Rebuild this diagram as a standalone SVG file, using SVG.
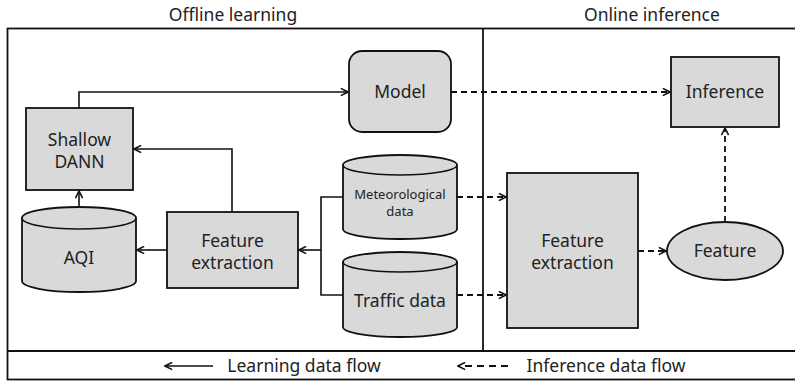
<svg xmlns="http://www.w3.org/2000/svg" width="795" height="381" viewBox="0 0 795 381">
<defs>
<style>
text{font-family:"Noto Sans","Open Sans","DejaVu Sans",sans-serif;fill:#222;text-anchor:middle}
.t16{font-size:17.5px}
.t13{font-size:13px}
.node{fill:#d9d9d9;stroke:#111;stroke-width:1.8}
.frame{fill:none;stroke:#111;stroke-width:1.8}
.solid{fill:none;stroke:#111;stroke-width:1.6}
.dash{fill:none;stroke:#111;stroke-width:1.8;stroke-dasharray:6 4}
</style>
<marker id="arr" viewBox="0 0 10 10" refX="9" refY="5" markerWidth="9" markerHeight="9" markerUnits="userSpaceOnUse" orient="auto">
<path d="M1,1 L9,5 L1,9" fill="none" stroke="#111" stroke-width="1.8"/>
</marker>
</defs>
<rect width="795" height="381" fill="#fff"/>
<g id="frame">
<rect class="frame" x="7.5" y="28.5" width="795" height="351"/>
<line class="frame" x1="483" y1="28" x2="483" y2="351"/>
<line class="frame" x1="7" y1="351" x2="795" y2="351"/>
<text class="t16" x="233" y="21">Offline learning</text>
<text class="t16" x="652" y="21">Online inference</text>
</g>
<g id="shallow-dann">
<rect class="node" x="26" y="108" width="107" height="82"/>
<text class="t16" x="79.5" y="146">Shallow</text>
<text class="t16" x="79.5" y="168">DANN</text>
</g>
<g id="model">
<rect class="node" x="349" y="51" width="102" height="81" rx="13"/>
<text class="t16" x="400" y="98">Model</text>
</g>
<g id="inference">
<rect class="node" x="671" y="57" width="108" height="70"/>
<text class="t16" x="725" y="98">Inference</text>
</g>
<g id="aqi">
<path class="node" d="M22,218 A57,11 0 0 1 136,218 L136,281 A57,11 0 0 1 22,281 Z"/>
<path class="solid" d="M22,218 A57,11 0 0 0 136,218"/>
<text class="t16" x="79" y="264">AQI</text>
</g>
<g id="feature-extraction-offline">
<rect class="node" x="167" y="212" width="131" height="76"/>
<text class="t16" x="232.5" y="247">Feature</text>
<text class="t16" x="232.5" y="269">extraction</text>
</g>
<g id="meteorological-data">
<path class="node" d="M343,165 A57,10 0 0 1 457,165 L457,229 A57,10 0 0 1 343,229 Z"/>
<path class="solid" d="M343,165 A57,10 0 0 0 457,165"/>
<text class="t13" x="400" y="199">Meteorological</text>
<text class="t13" x="400" y="216">data</text>
</g>
<g id="traffic-data">
<path class="node" d="M343,262 A57,10 0 0 1 457,262 L457,327 A57,10 0 0 1 343,327 Z"/>
<path class="solid" d="M343,262 A57,10 0 0 0 457,262"/>
<text class="t16" x="400" y="307">Traffic data</text>
</g>
<g id="feature-extraction-online">
<rect class="node" x="507" y="173" width="131" height="155"/>
<text class="t16" x="572.5" y="247">Feature</text>
<text class="t16" x="572.5" y="269">extraction</text>
</g>
<g id="feature">
<ellipse class="node" cx="725" cy="251" rx="58" ry="29"/>
<text class="t16" x="725" y="257">Feature</text>
</g>
<g id="connectors">
<path class="solid" d="M79,108 V92 H348" marker-end="url(#arr)"/>
<path class="solid" d="M232,212 V149 H134" marker-end="url(#arr)"/>
<path class="solid" d="M79,207 V191" marker-end="url(#arr)"/>
<path class="solid" d="M167,250 H137" marker-end="url(#arr)"/>
<path class="solid" d="M343,197 H321 V295 H343"/>
<path class="solid" d="M321,250 H299" marker-end="url(#arr)"/>
<path class="dash" d="M451,92 H670" marker-end="url(#arr)"/>
<path class="dash" d="M457,197 H506" marker-end="url(#arr)"/>
<path class="dash" d="M457,295 H506" marker-end="url(#arr)"/>
<path class="dash" d="M638,251 H666" marker-end="url(#arr)"/>
<path class="dash" d="M725,222 V128" marker-end="url(#arr)"/>
</g>
<g id="legend">
<path class="solid" d="M213,366 H165" marker-end="url(#arr)"/>
<text class="t16" x="304" y="372">Learning data flow</text>
<path class="dash" d="M508,366 H458" marker-end="url(#arr)" style="stroke-dasharray:7 5"/>
<text class="t16" x="606" y="372">Inference data flow</text>
</g>
</svg>
